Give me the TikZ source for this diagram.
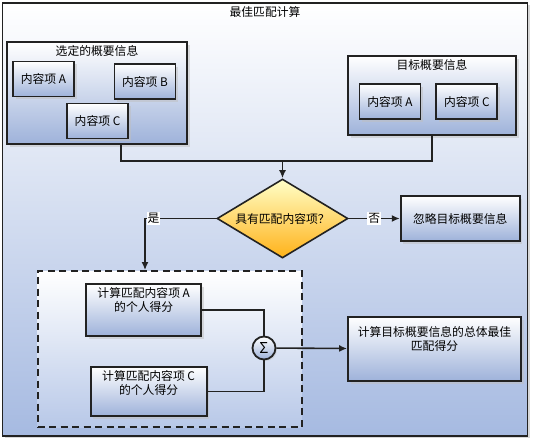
\documentclass[tikz,border=0pt]{standalone}
\usepackage{fontspec}
\setmainfont{Noto Sans CJK SC}
\usetikzlibrary{arrows,arrows.meta,positioning,shapes.geometric,shadows}
\definecolor{boxblue}{RGB}{158,178,218}
\definecolor{backblue}{RGB}{166,186,225}
\definecolor{dashblue}{RGB}{184,200,232}
\definecolor{lightyellow}{RGB}{255,255,200}
\definecolor{deeporange}{RGB}{255,178,25}
\definecolor{edgegray}{RGB}{34,34,34}
\tikzset{
    %Define standard arrow tip
    >={Latex[length=8pt,width=7pt]},
    %Define style for the outer frame
    outerframe/.style={
           rectangle,
           draw=edgegray, line width=1.8pt,
           top color=white, bottom color=backblue,
           drop shadow={shadow xshift=2pt, shadow yshift=-2pt, fill=black!30},
           inner sep=0pt},
    %Define style for boxes
    bluebox/.style={
           rectangle,
           draw=edgegray, line width=1.8pt,
           top color=white, bottom color=boxblue,
           drop shadow={shadow xshift=2.5pt, shadow yshift=-2.5pt, fill=black!25},
           inner sep=0pt,
           align=center},
    item/.style={
           bluebox,
           minimum width=61pt,
           minimum height=35pt},
    % Define style for the dashed group
    dashgroup/.style={
           rectangle,
           draw=edgegray, line width=1.8pt,
           dash pattern=on 7pt off 4.5pt,
           top color=white, bottom color=dashblue},
    % Define style for the decision
    decision/.style={
           diamond,
           aspect=1.66,
           draw=edgegray, line width=1.6pt,
           top color=lightyellow, bottom color=deeporange,
           minimum width=131pt,
           minimum height=79pt,
           inner sep=0pt},
    sumnode/.style={
           circle,
           draw=edgegray, line width=1.8pt,
           top color=white, bottom color=boxblue,
           drop shadow={shadow xshift=1.5pt, shadow yshift=-1.5pt, fill=black!25},
           minimum size=23pt,
           inner sep=0pt},
    % Define style for titles at the top of a box
    titletext/.style={
           anchor=north,
           yshift=-2pt,
           inner sep=2pt,
           align=center},
    % Define arrow style
    conn/.style={
           draw=edgegray,
           line width=1.6pt},
    flow/.style={
           conn,
           ->},
    edgetag/.style={
           fill=white,
           inner sep=1pt},
}

\begin{document}
\begin{tikzpicture}[x=1pt, y=-1pt, font=\fontsize{11.8pt}{14pt}\selectfont]
 \useasboundingbox (0,0) rectangle (533,442);
 %frame
 \node[outerframe, minimum width=525pt, minimum height=433pt,
       label={[titletext]north:最佳匹配计算}] (calc) at (265,219.5) {};
 %profiles
 \node[bluebox, minimum width=180pt, minimum height=102pt,
       label={[titletext]north:选定的概要信息}] (selected) at (97,93) {};
 \node[item] (selA) at (43.5,79) {内容项 A};
 \node[item] (selB) at (145,81.5) {内容项 B};
 \node[item] (selC) at (97.5,121) {内容项 C};
 \node[bluebox, minimum width=168pt, minimum height=79pt,
       label={[titletext]north:目标概要信息}] (target) at (432,95.5) {};
 \node[item] (tgtA) at (390,101.5) {内容项 A};
 \node[item, right=14pt of tgtA] (tgtC) {内容项 C};
 %decision
 \coordinate (merge) at (282.5,161);
 \node[decision] (match) at (282.5,218.5) {具有匹配内容项？};
 \node[bluebox, minimum width=119pt, minimum height=45pt,
       right=51pt of match] (ignore) {忽略目标概要信息};
 %scores
 \node[dashgroup, minimum width=264pt, minimum height=156pt] (scores) at (169.6,349) {};
 \node[bluebox, minimum width=115pt, minimum height=52pt,
       label={[titletext]north:计算匹配内容项 A\\的个人得分}] (scoreA) at (143.7,310) {};
 \node[bluebox, minimum width=116pt, minimum height=49pt,
       label={[titletext]north:计算匹配内容项 C\\的个人得分}] (scoreC) at (148.6,391.5) {};
 \node[sumnode] (sum) at (264,348) {\fontsize{15pt}{15pt}\selectfont Σ};
 \node[bluebox, minimum width=173pt, minimum height=64pt,
       label={[titletext, yshift=-6pt]north:计算目标概要信息的总体最佳\\匹配得分}] (total) at (434.5,349) {};
 %edges
 \draw[conn] ([xshift=24pt]selected.south) |- (merge);
 \draw[conn] (target.south) |- (merge);
 \draw[flow] (merge) -- (match);
 \draw[flow] (match) -- node[edgetag] {否} (ignore);
 \draw[flow] (match.west) -| node[edgetag, pos=0.44] {是} ([xshift=-24.6pt]scores.north);
 \draw[conn] (scoreA) -| (sum);
 \draw[conn] (scoreC) -| (sum);
 \draw[flow] (sum) -- (total);
\end{tikzpicture}
\end{document}
